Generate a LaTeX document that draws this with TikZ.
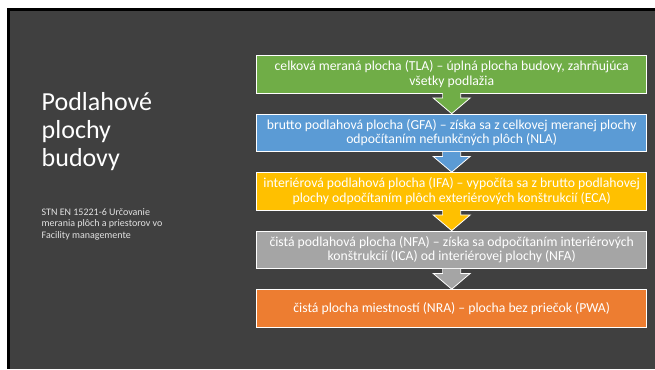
\documentclass[tikz,border=0pt]{standalone}
\usepackage{fontspec}
\setmainfont{Carlito}
\usetikzlibrary{calc}

\definecolor{slidebg}{HTML}{404040}
\definecolor{accgreen}{HTML}{70AD47}
\definecolor{accblue}{HTML}{5B9BD5}
\definecolor{accgold}{HTML}{FFC000}
\definecolor{accgray}{HTML}{A5A5A5}
\definecolor{accorange}{HTML}{ED7D31}

\tikzset{
  stepbox/.style={draw=white, line width=0.8pt, minimum width=390pt,
    minimum height=37.5pt, inner sep=0pt, align=center, text=white,
    font=\fontsize{13.7}{14.5}\selectfont},
  downarrow/.style={draw=white, line width=0.8pt, line join=miter},
}

\begin{document}
\begin{tikzpicture}[x=1pt,y=-1pt]
  % page and slide frame
  \useasboundingbox (0,0) rectangle (655,369);
  \fill[white] (0,0) rectangle (655,369);
  \fill[black] (7,8) rectangle (655,369);
  \fill[slidebg] (10,11) rectangle (655,369);

  % title and source
  \node[anchor=north west, inner sep=0pt, align=left, text=white,
        font=\fontsize{26}{28}\selectfont] (title) at (41.5,92)
        {Podlahové\\plochy\\budovy};
  \node[anchor=north west, inner sep=0pt, align=left, text=white!85!slidebg,
        font=\fontsize{10}{11.3}\selectfont] (source) at (41.5,208.5)
        {STN EN 15221-6 Určovanie\\merania plôch a priestorov vo\\Facility managemente};

  % process steps
  \coordinate (c1) at (451.7,74.3);
  \node[stepbox, fill=accgreen]  (tla) at (c1)
        {celková meraná plocha (TLA) – úplná plocha budovy, zahrňujúca\\všetky podlažia};
  \node[stepbox, fill=accblue]   (gfa) at ($(c1)+(0,58.5)$)
        {brutto podlahová plocha (GFA) – získa sa z celkovej meranej plochy\\odpočítaním nefunkčných plôch (NLA)};
  \node[stepbox, fill=accgold]   (ifa) at ($(c1)+(0,117)$)
        {interiérová podlahová plocha (IFA) – vypočíta sa z brutto podlahovej\\plochy odpočítaním plôch exteriérových konštrukcií (ECA)};
  \node[stepbox, fill=accgray]   (nfa) at ($(c1)+(0,175.5)$)
        {čistá podlahová plocha (NFA) – získa sa odpočítaním interiérových\\konštrukcií (ICA) od interiérovej plochy (NFA)};
  \node[stepbox, fill=accorange] (nra) at ($(c1)+(0,234)$)
        {čistá plocha miestností (NRA) – plocha bez priečok (PWA)};

  % block arrows between the steps
  \foreach \a/\b/\col in {tla/gfa/accgreen, gfa/ifa/accblue, ifa/nfa/accgold, nfa/nra/accgray}{
    \draw[downarrow, fill=\col]
      ($(\a.south)+(-9,0)$) -- ($(\a.south)+(-9,4.5)$) -- ($(\a.south)+(-18.5,4.5)$)
      -- (\b.north) -- ($(\a.south)+(18.5,4.5)$) -- ($(\a.south)+(9,4.5)$)
      -- ($(\a.south)+(9,0)$);
    \fill[\col] ($(\a.south)+(-8.6,-0.4)$) rectangle ($(\a.south)+(8.6,5)$);
  }
\end{tikzpicture}
\end{document}
